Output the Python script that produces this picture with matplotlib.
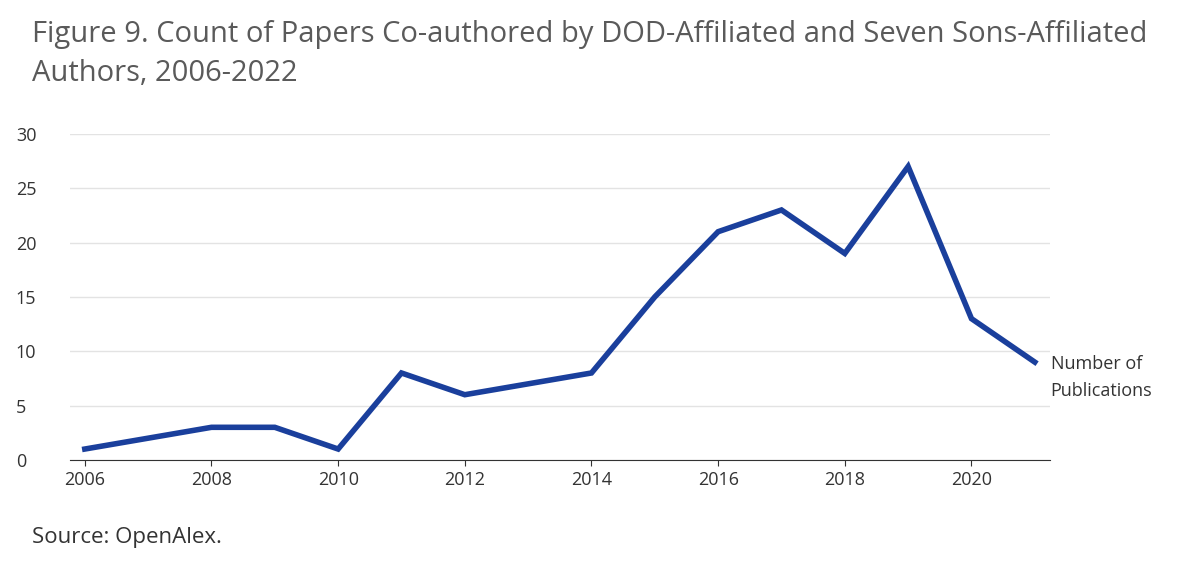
import matplotlib
matplotlib.use("Agg")
import matplotlib.pyplot as plt

years = [2006, 2007, 2008, 2009, 2010, 2011, 2012, 2013, 2014, 2015, 2016, 2017, 2018, 2019, 2020, 2021]
counts = [1, 2, 3, 3, 1, 8, 6, 7, 8, 15, 21, 23, 19, 27, 13, 9]
xticks = [2006, 2008, 2010, 2012, 2014, 2016, 2018, 2020]
yticks = [0, 5, 10, 15, 20, 25, 30]

plt.rcParams['font.family'] = ['Open Sans', 'DejaVu Sans']
fig = plt.figure(figsize=(12, 5.65), dpi=100)
ax = fig.add_axes([0.058, 0.186, 0.817, 0.577])
ax.plot(years, counts, color='#1a3f9c', lw=4, solid_joinstyle='miter', clip_on=False)
ax.set_xlim(2005.76, 2021.24)
ax.set_ylim(0, 30)
ax.set_xticks(xticks)
ax.set_yticks(yticks)
ax.grid(axis='y', color='#e3e3e3', lw=1)
ax.set_axisbelow(True)
for s in ['top', 'right', 'left']:
    ax.spines[s].set_visible(False)
ax.spines['bottom'].set_color('#333333')
ax.tick_params(axis='y', length=0, labelsize=13, colors='#333333', pad=14)
ax.tick_params(axis='x', length=4, labelsize=13, colors='#333333', pad=4)
for lab in ax.get_yticklabels():
    lab.set_horizontalalignment('left')
    lab.set_x(-0.035)
ax.text(2021.25, 7.6, 'Number of\nPublications', fontsize=13, color='#333333',
        va='center', ha='left', linespacing=1.65)
fig.text(0.027, 0.965, 'Figure 9. Count of Papers Co-authored by DOD-Affiliated and Seven Sons-Affiliated\nAuthors, 2006-2022',
         fontsize=21, color='#5a5a5a', va='top', ha='left', linespacing=1.45)
fig.text(0.027, 0.048, 'Source: OpenAlex.', fontsize=16, color='#333333', va='center', ha='left')
fig.savefig('out.png', dpi=100)
